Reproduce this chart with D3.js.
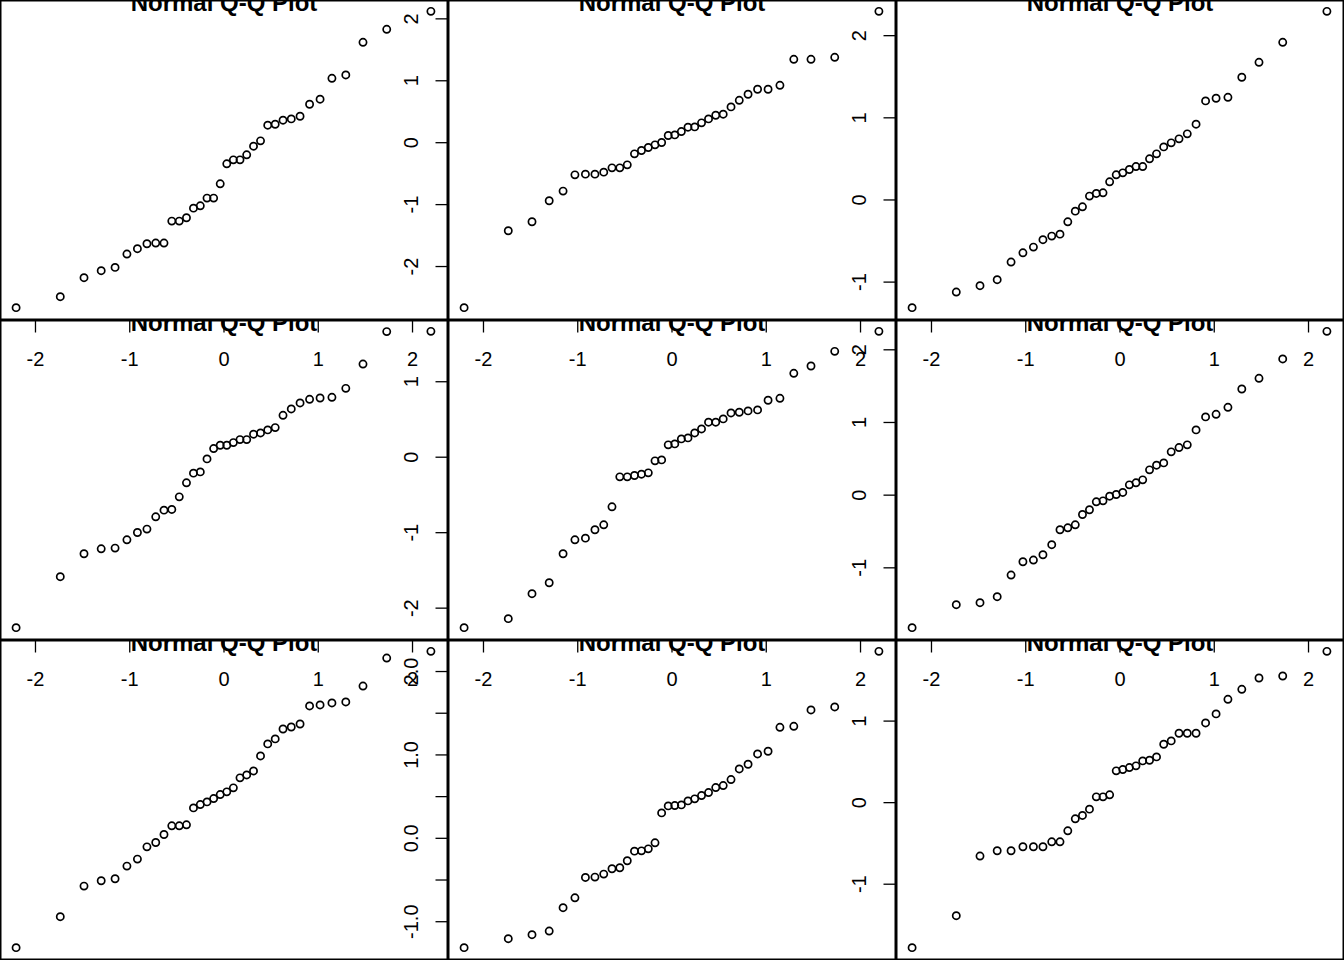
<!DOCTYPE html>
<html>
<head>
<meta charset="utf-8">
<script src="https://cdn.jsdelivr.net/npm/d3@7"></script>
<style>
  html, body { margin: 0; padding: 0; background: #ffffff; }
  svg { display: block; }
  text { font-family: "Liberation Sans", Arial, Helvetica, sans-serif; fill: #000; }
</style>
</head>
<body>
<svg id="chart" width="1344" height="960"></svg>
<script>
// ---- data: sorted sample values of the nine Q-Q panels (row by row) ----
const sample1 = [-2.672,-2.495,-2.188,-2.075,-2.022,-1.806,-1.720,-1.640,-1.629,-1.629,-1.274,-1.274,-1.220,-1.065,-1.027,-0.903,-0.903,-0.672,-0.349,-0.285,-0.285,-0.204,-0.065,0.022,0.274,0.290,0.355,0.376,0.419,0.613,0.694,1.032,1.086,1.613,1.823,2.113];
const sample2 = [-2.672,-1.430,-1.285,-0.946,-0.790,-0.527,-0.516,-0.516,-0.484,-0.414,-0.414,-0.366,-0.188,-0.134,-0.086,-0.043,-0.005,0.108,0.118,0.172,0.242,0.247,0.312,0.376,0.435,0.452,0.570,0.677,0.774,0.855,0.855,0.919,1.339,1.339,1.371,2.113];
const sample3 = [-1.317,-1.127,-1.050,-0.977,-0.762,-0.649,-0.580,-0.490,-0.446,-0.422,-0.272,-0.142,-0.089,0.041,0.073,0.081,0.215,0.300,0.324,0.365,0.401,0.401,0.495,0.555,0.640,0.689,0.738,0.799,0.916,1.200,1.232,1.244,1.488,1.670,1.913,2.290];
const sample4 = [-2.265,-1.590,-1.286,-1.220,-1.211,-1.101,-1.004,-0.959,-0.796,-0.708,-0.699,-0.532,-0.346,-0.218,-0.201,-0.029,0.108,0.152,0.152,0.187,0.227,0.227,0.298,0.315,0.355,0.386,0.549,0.633,0.712,0.761,0.778,0.787,0.906,1.228,1.658,1.661];
const sample5 = [-2.265,-2.146,-1.815,-1.670,-1.286,-1.101,-1.079,-0.968,-0.902,-0.664,-0.267,-0.267,-0.249,-0.232,-0.214,-0.055,-0.042,0.157,0.170,0.236,0.249,0.315,0.368,0.457,0.457,0.501,0.580,0.589,0.607,0.620,0.748,0.774,1.105,1.202,1.396,1.661];
const sample6 = [-1.830,-1.514,-1.487,-1.404,-1.106,-0.923,-0.900,-0.827,-0.689,-0.483,-0.456,-0.415,-0.273,-0.208,-0.098,-0.085,-0.021,0.002,0.030,0.135,0.163,0.204,0.341,0.405,0.437,0.589,0.648,0.685,0.891,1.070,1.106,1.202,1.454,1.601,1.867,2.247];
const sample7 = [-1.317,-0.946,-0.579,-0.515,-0.491,-0.339,-0.255,-0.108,-0.056,0.040,0.144,0.144,0.156,0.359,0.399,0.431,0.471,0.519,0.551,0.599,0.719,0.754,0.802,0.982,1.126,1.186,1.305,1.329,1.365,1.581,1.593,1.617,1.629,1.820,2.156,2.236];
const sample8 = [-1.317,-1.210,-1.162,-1.118,-0.838,-0.719,-0.475,-0.471,-0.435,-0.371,-0.359,-0.275,-0.160,-0.156,-0.132,-0.060,0.299,0.383,0.387,0.395,0.443,0.467,0.507,0.543,0.603,0.627,0.699,0.826,0.882,1.006,1.038,1.325,1.337,1.533,1.569,2.236];
const sample9 = [-1.784,-1.392,-0.661,-0.596,-0.596,-0.547,-0.547,-0.547,-0.486,-0.486,-0.351,-0.204,-0.163,-0.086,0.065,0.065,0.090,0.384,0.400,0.424,0.445,0.506,0.514,0.555,0.710,0.751,0.845,0.845,0.845,0.971,1.082,1.261,1.384,1.522,1.547,1.849];

const samples = [sample1, sample2, sample3, sample4, sample5, sample6, sample7, sample8, sample9];

// ---- tick values and labels ----
const xTicks = [-2, -1, 0, 1, 2];
const xTickLabels = ["-2", "-1", "0", "1", "2"];

const yTicks1 = [-2, -1, 0, 1, 2];
const yTicks2 = [-2, -1, 0, 1, 2];
const yTicks3 = [-1, 0, 1, 2];
const yTicks4 = [-2, -1, 0, 1];
const yTicks5 = [-2, -1, 0, 1];
const yTicks6 = [-1, 0, 1, 2];
const yTicks7 = [-1, -0.5, 0, 0.5, 1, 1.5, 2];
const yTicks8 = [-1, -0.5, 0, 0.5, 1, 1.5, 2];
const yTicks9 = [-1, 0, 1];

const yLabels1 = ["-2", "-1", "0", "1", "2"];
const yLabels2 = ["-2", "-1", "0", "1", "2"];
const yLabels3 = ["-1", "0", "1", "2"];
const yLabels4 = ["-2", "-1", "0", "1"];
const yLabels5 = ["-2", "-1", "0", "1"];
const yLabels6 = ["-1", "0", "1", "2"];
const yLabels7 = ["-1.0", "", "0.0", "", "1.0", "", "2.0"];
const yLabels8 = ["-1.0", "", "0.0", "", "1.0", "", "2.0"];
const yLabels9 = ["-1", "0", "1"];

const yTicksAll = [yTicks1, yTicks2, yTicks3, yTicks4, yTicks5, yTicks6, yTicks7, yTicks8, yTicks9];
const yLabelsAll = [yLabels1, yLabels2, yLabels3, yLabels4, yLabels5, yLabels6, yLabels7, yLabels8, yLabels9];

const panelTitle = "Normal Q-Q Plot";

// ---- normal quantile function (as used by qqnorm) ----
function qnorm(p) {
  const a = [-3.969683028665376e+01, 2.209460984245205e+02, -2.759285104469687e+02, 1.383577518672690e+02, -3.066479806614716e+01, 2.506628277459239e+00];
  const b = [-5.447609879822406e+01, 1.615858368580409e+02, -1.556989798598866e+02, 6.680131188771972e+01, -1.328068155288572e+01];
  const c = [-7.784894002430293e-03, -3.223964580411365e-01, -2.400758277161838e+00, -2.549732539343734e+00, 4.374664141464968e+00, 2.938163982698783e+00];
  const d = [7.784695709041462e-03, 3.224671290700398e-01, 2.445134137142996e+00, 3.754408661907416e+00];
  const pl = 0.02425, ph = 1 - pl;
  let q, r;
  if (p < pl) {
    q = Math.sqrt(-2 * Math.log(p));
    return (((((c[0]*q+c[1])*q+c[2])*q+c[3])*q+c[4])*q+c[5]) / ((((d[0]*q+d[1])*q+d[2])*q+d[3])*q+1);
  }
  if (p <= ph) {
    q = p - 0.5; r = q * q;
    return (((((a[0]*r+a[1])*r+a[2])*r+a[3])*r+a[4])*r+a[5])*q / (((((b[0]*r+b[1])*r+b[2])*r+b[3])*r+b[4])*r+1);
  }
  q = Math.sqrt(-2 * Math.log(1 - p));
  return -(((((c[0]*q+c[1])*q+c[2])*q+c[3])*q+c[4])*q+c[5]) / ((((d[0]*q+d[1])*q+d[2])*q+d[3])*q+1);
}
function ppoints(n) {
  const a = n <= 10 ? 3 / 8 : 0.5;
  return d3.range(1, n + 1).map(i => (i - a) / (n + 1 - 2 * a));
}
function padded(ext) {
  const r = ext[1] - ext[0];
  return [ext[0] - 0.04 * r, ext[1] + 0.04 * r];
}

// ---- layout ----
const W = 1344, H = 960, cols = 3, rows = 3;
const pw = W / cols, ph = H / rows;
const svg = d3.select("#chart");
svg.append("rect").attr("width", W).attr("height", H).attr("fill", "#fff");
const defs = svg.append("defs");

samples.forEach((ys, i) => {
  const col = i % cols, row = Math.floor(i / cols);
  const x0 = col * pw, y0 = row * ph;
  const theo = ppoints(ys.length).map(qnorm);
  const pts = ys.map((v, k) => ({ x: theo[k], y: v }));

  const x = d3.scaleLinear().domain(padded(d3.extent(theo))).range([x0 - 0.5, x0 + pw - 0.5]);
  const y = d3.scaleLinear().domain(padded(d3.extent(ys))).range([y0 + ph - 0.5, y0 - 0.5]);

  const g = svg.append("g").attr("class", "panel");

  // points (pch = 1)
  g.append("g").selectAll("circle").data(pts).join("circle")
    .attr("cx", d => x(d.x)).attr("cy", d => y(d.y)).attr("r", 3.6)
    .attr("fill", "none").attr("stroke", "#000").attr("stroke-width", 1.7);

  // x axis (bottom) - only where it falls inside the device
  if (row < rows - 1) {
    const xa = g.append("g").attr("transform", `translate(0,${y0 + ph})`)
      .call(d3.axisBottom(x).tickValues(xTicks).tickFormat((d, k) => xTickLabels[k])
        .tickSize(12.5).tickSizeOuter(0).tickPadding(19));
    xa.select(".domain").remove();
    xa.selectAll(".tick line").attr("stroke", "#000").attr("stroke-width", 1.3);
    xa.selectAll(".tick text").attr("font-size", 20).attr("fill", "#000")
      .attr("font-family", "Liberation Sans, Arial, sans-serif");
  }

  // y axis (left), labels parallel to axis - only where it falls inside the device
  if (col > 0) {
    const yt = yTicksAll[i], yl = yLabelsAll[i];
    const ya = g.append("g").attr("transform", `translate(${x0},0)`)
      .call(d3.axisLeft(y).tickValues(yt).tickFormat((d, k) => yl[k]).tickSize(12.5).tickSizeOuter(0));
    ya.select(".domain").remove();
    ya.selectAll(".tick line").attr("stroke", "#000").attr("stroke-width", 1.3);
    ya.selectAll(".tick text").attr("x", null).attr("dy", null)
      .attr("text-anchor", "middle").attr("transform", "translate(-30.5,0) rotate(-90)")
      .attr("font-size", 20).attr("fill", "#000")
      .attr("font-family", "Liberation Sans, Arial, sans-serif");
  }

  // box
  g.append("rect").attr("x", x0 + 0.5).attr("y", y0 + 0.5)
    .attr("width", pw - 1).attr("height", ph - 1)
    .attr("fill", "none").attr("stroke", "#000").attr("stroke-width", 2);

  // title, clipped to its own figure region
  const cid = "clip" + i;
  defs.append("clipPath").attr("id", cid).append("rect")
    .attr("x", x0).attr("y", y0).attr("width", pw).attr("height", ph);
  g.append("text").attr("clip-path", `url(#${cid})`)
    .attr("x", x0 + pw / 2).attr("y", y0 + 10.5)
    .attr("text-anchor", "middle").attr("font-size", 24).attr("font-weight", "bold")
    .text(panelTitle);
});
</script>
</body>
</html>
